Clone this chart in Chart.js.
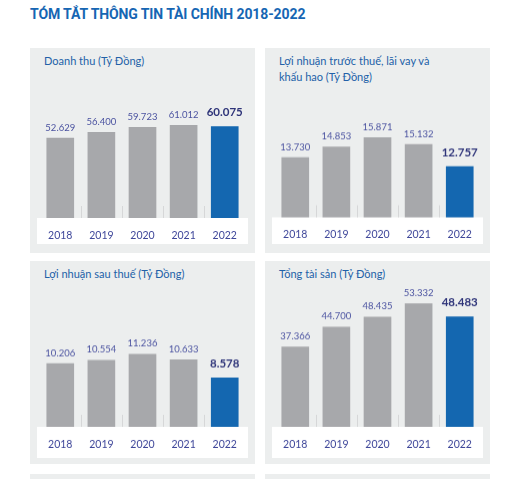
<!DOCTYPE html>
<html>
<head>
<meta charset="utf-8">
<script src="https://cdn.jsdelivr.net/npm/chart.js@4.4.1/dist/chart.umd.min.js"></script>
<style>
  html, body { margin: 0; padding: 0; background: #fff; }
  body { width: 526px; height: 479px; position: relative; overflow: hidden; font-family: "Lato", sans-serif; }
  .heading { position: absolute; left: 30px; top: 6px; font-family: "Roboto", sans-serif; font-weight: 700; font-size: 14px; color: #1666b3; letter-spacing: -0.1px; }
  .panel { position: absolute; background: #eceeee; width: 225px; }
  .panel-title { position: absolute; left: 14px; top: 5px; font-size: 11px; line-height: 15.7px; color: #2261a8; }
  .chart-box { position: absolute; left: 7px; width: 211px; }
</style>
</head>
<body>
<div class="heading">TÓM TẮT THÔNG TIN TÀI CHÍNH 2018-2022</div>

<div class="panel" style="left:30px; top:48px; height:205px;">
  <div class="panel-title">Doanh thu (Tỷ Đồng)</div>
  <div class="chart-box" style="top:42px; height:154px;"><canvas id="revenueChart"></canvas></div>
</div>
<div class="panel" style="left:265px; top:48px; height:205px;">
  <div class="panel-title">Lợi nhuận trước thuế, lãi vay và<br>khấu hao (Tỷ Đồng)</div>
  <div class="chart-box" style="top:42px; height:153.5px;"><canvas id="ebitdaChart"></canvas></div>
</div>
<div class="panel" style="left:30px; top:261px; height:203px;">
  <div class="panel-title">Lợi nhuận sau thuế (Tỷ Đồng)</div>
  <div class="chart-box" style="top:22px; height:174.7px;"><canvas id="profitChart"></canvas></div>
</div>
<div class="panel" style="left:265px; top:261px; height:203px;">
  <div class="panel-title">Tổng tài sản (Tỷ Đồng)</div>
  <div class="chart-box" style="top:22px; height:174.7px;"><canvas id="assetsChart"></canvas></div>
</div>
<div class="panel" style="left:30px; top:474px; height:10px;"></div>
<div class="panel" style="left:265px; top:474px; height:10px;"></div>

<script>
const years = ["2018", "2019", "2020", "2021", "2022"];
const revenue = [52629, 56400, 59723, 61012, 60075];
const ebitda = [13730, 14853, 15871, 15132, 12757];
const netProfit = [10206, 10554, 11236, 10633, 8578];
const totalAssets = [37366, 44700, 48435, 53332, 48483];

const greyBar = "#a7a8ab";
const blueBar = "#1467b0";

function formatVnd(v) {
  return String(v).replace(/\B(?=(\d{3})+(?!\d))/g, ".");
}

/* white strip under the bars + little separators between years */
const stripPlugin = {
  id: "strip",
  beforeDraw(chart) {
    const { ctx, chartArea } = chart;
    ctx.save();
    ctx.fillStyle = "#ffffff";
    ctx.fillRect(0, chartArea.bottom, chart.width, chart.height - chartArea.bottom);
    ctx.restore();
  },
  beforeDatasetsDraw(chart) {
    const { ctx, chartArea } = chart;
    const x = chart.scales.x;
    ctx.save();
    ctx.strokeStyle = "#d6d7d8";
    ctx.lineWidth = 1;
    for (let i = 0; i < years.length - 1; i++) {
      const px = Math.round((x.getPixelForValue(i) + x.getPixelForValue(i + 1)) / 2) + 0.5;
      ctx.beginPath();
      ctx.moveTo(px, chartArea.bottom - 12);
      ctx.lineTo(px, chartArea.bottom);
      ctx.stroke();
    }
    ctx.restore();
  }
};

const valueLabels = {
  id: "valueLabels",
  afterDatasetsDraw(chart) {
    const { ctx } = chart;
    const meta = chart.getDatasetMeta(0);
    const data = chart.data.datasets[0].data;
    ctx.save();
    ctx.textAlign = "center";
    ctx.textBaseline = "middle";
    meta.data.forEach((bar, i) => {
      const last = i === data.length - 1;
      ctx.font = last ? "bold 11.5px Lato" : "9.5px Lato";
      ctx.fillStyle = last ? "#2e3479" : "#4a52a0";
      ctx.fillText(formatVnd(data[i]), bar.x, bar.y - (last ? 14 : 10.5));
    });
    ctx.restore();
  }
};

function makeChart(id, values, yMin, yMax, axisHeight) {
  new Chart(document.getElementById(id), {
    type: "bar",
    data: {
      labels: years,
      datasets: [{
        data: values,
        backgroundColor: values.map((v, i) => i === values.length - 1 ? blueBar : greyBar),
        borderWidth: 0,
        barThickness: 27
      }]
    },
    options: {
      responsive: true,
      maintainAspectRatio: false,
      animation: false,
      layout: { padding: { left: 1, right: 2.5, top: 0, bottom: 0 } },
      plugins: { legend: { display: false }, tooltip: { enabled: false } },
      scales: {
        x: {
          border: { display: false },
          grid: { display: false, drawTicks: false },
          ticks: { color: "#3f479a", font: { family: "Lato", size: 10.5 }, padding: 11 },
          afterFit: (s) => { s.height = axisHeight; }
        },
        y: { display: false, min: yMin, max: yMax }
      }
    },
    plugins: [stripPlugin, valueLabels]
  });
}

makeChart("revenueChart", revenue, 0, 84210, 26);
makeChart("ebitdaChart", ebitda, 7300, 20976, 27);
makeChart("profitChart", netProfit, 3070, 19265, 31.7);
makeChart("assetsChart", totalAssets, 7980, 60943, 31.7);
</script>
</body>
</html>
